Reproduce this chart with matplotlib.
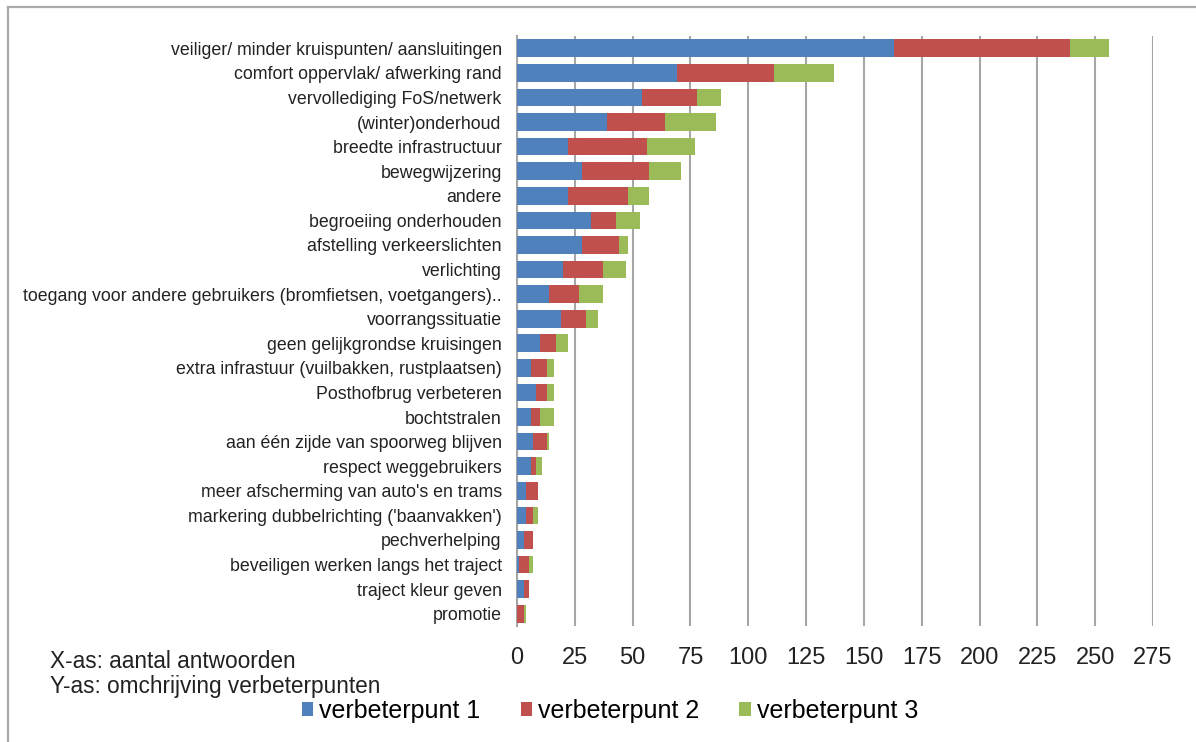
import matplotlib
matplotlib.use("Agg")
import matplotlib.pyplot as plt
from matplotlib.lines import Line2D
from matplotlib.patches import Patch
import numpy as np

plt.rcParams["font.family"] = ["Liberation Sans", "DejaVu Sans"]

# verbeterpunten, van boven naar onder
categories = [
    "veiliger/ minder kruispunten/ aansluitingen",
    "comfort oppervlak/ afwerking rand",
    "vervollediging FoS/netwerk",
    "(winter)onderhoud",
    "breedte infrastructuur",
    "bewegwijzering",
    "andere",
    "begroeiing onderhouden",
    "afstelling verkeerslichten",
    "verlichting",
    "toegang voor andere gebruikers (bromfietsen, voetgangers)..",
    "voorrangssituatie",
    "geen gelijkgrondse kruisingen",
    "extra infrastuur (vuilbakken, rustplaatsen)",
    "Posthofbrug verbeteren",
    "bochtstralen",
    "aan één zijde van spoorweg blijven",
    "respect weggebruikers",
    "meer afscherming van auto's en trams",
    "markering dubbelrichting ('baanvakken')",
    "pechverhelping",
    "beveiligen werken langs het traject",
    "traject kleur geven",
    "promotie",
]
punt1 = [163, 69, 54, 39, 22, 28, 22, 32, 28, 20, 14, 19, 10, 6, 8, 6, 7, 6, 4, 4, 3, 1, 3, 0]
punt2 = [76, 42, 24, 25, 34, 29, 26, 11, 16, 17, 13, 11, 7, 7, 5, 4, 6, 2, 5, 3, 4, 4, 2, 3]
punt3 = [17, 26, 10, 22, 21, 14, 9, 10, 4, 10, 10, 5, 5, 3, 3, 6, 1, 3, 0, 2, 0, 2, 0, 1]
series_labels = ["verbeterpunt 1", "verbeterpunt 2", "verbeterpunt 3"]
colors = ["#4F81BD", "#C0504D", "#9BBB59"]
xticks = list(range(0, 276, 25))

fig = plt.figure(figsize=(11.96, 7.42), dpi=100, facecolor="white")
ax = fig.add_axes([517 / 1196, 1 - 626 / 742, (1153 - 517) / 1196, (626 - 36) / 742])

y = np.arange(len(categories))
left = np.zeros(len(categories))
for vals, c, lbl in zip([punt1, punt2, punt3], colors, series_labels):
    ax.barh(y, vals, left=left, height=0.72, color=c, label=lbl, zorder=3)
    left += np.array(vals)

ax.set_ylim(len(categories) - 0.5, -0.5)
ax.set_xlim(0, 275)
ax.set_yticks(y)
ax.set_yticklabels(categories, fontsize=12.8, color="#222222")
ax.set_xticks(xticks)
ax.set_xticklabels([str(t) for t in xticks], fontsize=17, color="#222222")
ax.tick_params(axis="both", length=0)
ax.tick_params(axis="y", pad=11)
ax.tick_params(axis="x", pad=15)
ax.grid(axis="x", color="#a6a6a6", linewidth=1.5, zorder=0)
for s in ["top", "right", "bottom"]:
    ax.spines[s].set_visible(False)
ax.spines["left"].set_color("#a6a6a6")
ax.spines["left"].set_linewidth(1.5)

fig.text(50 / 1196, 1 - 661 / 742, "X-as: aantal antwoorden", fontsize=16.3, va="center", color="#222222")
fig.text(50 / 1196, 1 - 686 / 742, "Y-as: omchrijving verbeterpunten", fontsize=16.3, va="center", color="#222222")

handles = [Patch(facecolor=c, edgecolor="none") for c in colors]
fig.legend(handles, series_labels, loc="center", bbox_to_anchor=(610 / 1196, 1 - 711 / 742),
           ncol=3, frameon=False, fontsize=18, handlelength=0.45, handleheight=0.45,
           handletextpad=0.25, columnspacing=1.6)

# kader rond de grafiek (boven- en linkerrand)
fig.add_artist(Line2D([8 / 1196, 1.0], [1 - 7 / 742, 1 - 7 / 742], color="#aaaaaa", linewidth=1.6))
fig.add_artist(Line2D([8 / 1196, 8 / 1196], [1 - 7 / 742, 0.0], color="#aaaaaa", linewidth=1.6))

plt.savefig("out.png", dpi=100, facecolor="white")
plt.close()
